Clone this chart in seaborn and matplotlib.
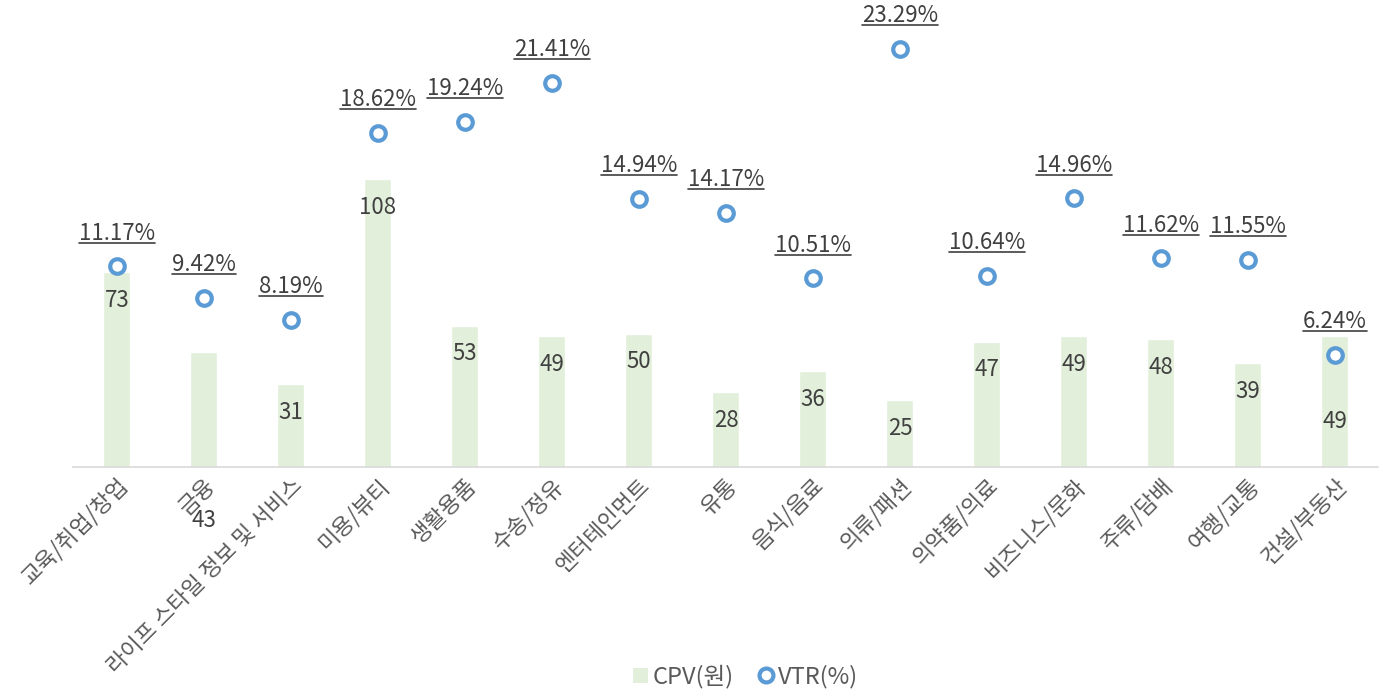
import matplotlib
matplotlib.use("Agg")
import matplotlib.pyplot as plt
import seaborn as sns
import pandas as pd
from matplotlib.lines import Line2D
from matplotlib.patches import Patch

categories = ["교육/취업/창업", "금융", "라이프 스타일 정보 및 서비스", "미용/뷰티", "생활용품",
              "수송/정유", "엔터테인먼트", "유통", "음식/음료", "의류/패션",
              "의약품/의료", "비즈니스/문화", "주류/담배", "여행/교통", "건설/부동산"]
cpv = [73, 43, 31, 108, 53, 49, 50, 28, 36, 25, 47, 49, 48, 39, 49]
vtr = [11.17, 9.42, 8.19, 18.62, 19.24, 21.41, 14.94, 14.17, 10.51, 23.29, 10.64, 14.96, 11.62, 11.55, 6.24]

sns.set_theme(style="white")
plt.rcParams['font.family'] = ['Noto Sans CJK KR', 'DejaVu Sans']

BAR = "#E2EFDA"
BLUE = "#5B9BD5"
TXT = "#404040"
TICK = "#595959"

df = pd.DataFrame({"cat": categories, "cpv": cpv, "vtr": vtr})

fig = plt.figure(figsize=(13.89, 6.91), dpi=100)
ax = fig.add_axes([0.0529, 0.3242, 0.9395, 0.6613])
sns.barplot(data=df, x="cat", y="cpv", order=categories, color=BAR, width=0.31,
            saturation=1, ax=ax, legend=False)
ax.set_xlim(-0.5, len(categories) - 0.5)
ax.set_ylim(0, 171.4)
ax.set_xlabel("")
ax.set_ylabel("")
ax.set_yticks([])
for s in ["top", "right", "left"]:
    ax.spines[s].set_visible(False)
ax.spines["bottom"].set_color("#D9D9D9")
ax.spines["bottom"].set_linewidth(1.2)
ax.tick_params(axis="x", length=0, pad=5)
ax.set_xticks(range(len(categories)))
ax.set_xticklabels(categories, rotation=45, ha="right", rotation_mode="anchor",
                   fontsize=16, color=TICK)

# bar value labels (inside end)
for i, v in enumerate(cpv):
    off = -28
    if i == 1:
        off = -53 - v * 2.667  # label sits below the axis in the reference
    if i == 14:
        off = -(v * 2.667 - 46)
    ax.annotate(str(v), (i, v), xytext=(0, off * 0.72), textcoords="offset points",
                ha="center", va="center", fontsize=16, color=TXT)

ax2 = ax.twinx()
sns.scatterplot(data=df, x="cat", y="vtr", ax=ax2, marker="o", s=110,
                facecolor="white", edgecolor=BLUE, linewidth=3, zorder=5, legend=False)
ax2.set_ylim(0, 25.46)
ax2.set_yticks([])
ax2.set_ylabel("")
for s in ["top", "right", "left", "bottom"]:
    ax2.spines[s].set_visible(False)

vlabels = []
for i, v in enumerate(vtr):
    t = ax2.annotate(f"{v:.2f}%", (i, v), xytext=(0, 24), textcoords="offset points",
                     ha="center", va="center", fontsize=16, color=TXT)
    vlabels.append(t)

handles = [Patch(facecolor=BAR, edgecolor="none", label="CPV(원)"),
           Line2D([], [], marker="o", linestyle="none", markersize=10, markerfacecolor="white",
                  markeredgecolor=BLUE, markeredgewidth=3, label="VTR(%)")]
fig.legend(handles=handles, loc="lower center", bbox_to_anchor=(0.537, -0.027), ncol=2,
           frameon=False, fontsize=17, labelcolor=TICK, handlelength=0.6,
           handleheight=0.6, handletextpad=0.2, columnspacing=1.1)

fig.canvas.draw()
r = fig.canvas.get_renderer()
for t in vlabels:
    bb = t.get_window_extent(r)
    y = bb.y0 + 2
    fig.lines.append(Line2D([bb.x0 / fig.bbox.width, bb.x1 / fig.bbox.width],
                            [y / fig.bbox.height, y / fig.bbox.height],
                            transform=fig.transFigure, color=TXT, linewidth=1.2))

fig.savefig("out.png", dpi=100)
